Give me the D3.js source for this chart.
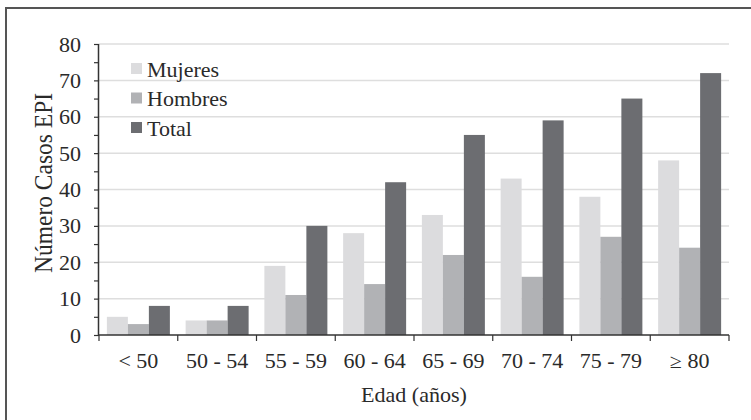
<!DOCTYPE html>
<html>
<head>
<meta charset="utf-8">
<script src="https://cdn.jsdelivr.net/npm/d3@7"></script>
<style>
  body { margin: 0; background: #fff; }
  text { font-family: "Liberation Serif", "Times New Roman", serif; fill: #2a2a2a; }
</style>
</head>
<body>
<div id="chart"></div>
<script>
// Age groups and EPI case counts
const categories = ["< 50", "50 - 54", "55 - 59", "60 - 64", "65 - 69", "70 - 74", "75 - 79", "\u2265 80"];
const series = ["Mujeres", "Hombres", "Total"];
const mujeres = [5, 4, 19, 28, 33, 43, 38, 48];
const hombres = [3, 4, 11, 14, 22, 16, 27, 24];
const total = [8, 8, 30, 42, 55, 59, 65, 72];
const yTicks = [0, 10, 20, 30, 40, 50, 60, 70, 80];

const values = { Mujeres: mujeres, Hombres: hombres, Total: total };
const colors = { Mujeres: "#dcdcde", Hombres: "#b1b2b5", Total: "#6c6d71" };

const W = 751, H = 420;
const margin = { top: 44, right: 22, bottom: 85, left: 99 };
const width = W - margin.left - margin.right;
const height = H - margin.top - margin.bottom;
const fs = 20;
const sx = 1.1; // the source picture is slightly stretched sideways

const svg = d3.select("#chart").append("svg")
    .attr("width", W)
    .attr("height", H);

// outer frame (runs off the right and bottom edges)
svg.append("path")
    .attr("d", `M${W + 5},8 H6 V${H + 5}`)
    .attr("fill", "none")
    .attr("stroke", "#555")
    .attr("stroke-width", 2);

const g = svg.append("g")
    .attr("transform", `translate(${margin.left},${margin.top})`);

const x = d3.scaleBand()
    .domain(categories)
    .range([0, width])
    .paddingInner(0.2)
    .paddingOuter(0.1);

const xSub = d3.scaleBand()
    .domain(series)
    .range([0, x.bandwidth()]);

const y = d3.scaleLinear()
    .domain([0, 80])
    .range([height, 0]);

// gridlines
g.append("g")
    .selectAll("line")
    .data(yTicks.slice(1))
    .join("line")
    .attr("x1", 0)
    .attr("x2", width)
    .attr("y1", d => y(d))
    .attr("y2", d => y(d))
    .attr("stroke", "#dedede")
    .attr("stroke-width", 1.5);

// bars
const groups = g.append("g")
    .selectAll("g")
    .data(categories)
    .join("g")
    .attr("transform", d => `translate(${x(d)},0)`);

groups.selectAll("rect")
    .data((c, i) => series.map(s => ({ s, v: values[s][i] })))
    .join("rect")
    .attr("x", d => xSub(d.s))
    .attr("y", d => y(d.v))
    .attr("width", xSub.bandwidth())
    .attr("height", d => y(0) - y(d.v))
    .attr("fill", d => colors[d.s]);

// y axis with minor ticks every 5
const yAxis = g.append("g")
    .call(d3.axisLeft(y).tickValues(d3.range(0, 81, 5)).tickSize(5).tickFormat(d => d % 10 === 0 ? d : ""))
    .call(a => a.select(".domain").attr("d", `M-0.5,${height}V0`).attr("stroke", "#333").attr("stroke-width", 1.5));
yAxis.selectAll(".tick line").attr("stroke", "#333").attr("stroke-width", 1.2);
yAxis.selectAll(".tick text")
    .attr("x", -18 / sx)
    .attr("dy", "0.35em")
    .attr("transform", `scale(${sx},1)`)
    .attr("font-size", fs)
    .attr("fill", "#2a2a2a");

// x axis: ticks on band boundaries
const xAxis = g.append("g")
    .attr("transform", `translate(0,${height})`);
xAxis.append("line")
    .attr("x1", 0).attr("x2", width)
    .attr("stroke", "#333").attr("stroke-width", 1.5);
xAxis.selectAll(".edge")
    .data(d3.range(categories.length + 1))
    .join("line")
    .attr("class", "edge")
    .attr("x1", i => i * x.step())
    .attr("x2", i => i * x.step())
    .attr("y1", 0).attr("y2", 6)
    .attr("stroke", "#333").attr("stroke-width", 1.2);
xAxis.selectAll(".lbl")
    .data(categories)
    .join("text")
    .attr("class", "lbl")
    .attr("transform", d => `translate(${x(d) + x.bandwidth() / 2},33) scale(${sx},1)`)
    .attr("text-anchor", "middle")
    .attr("font-size", fs)
    .text(d => d);

// axis titles
svg.append("text")
    .attr("transform", `translate(${margin.left + width / 2},402) scale(1.05,1)`)
    .attr("text-anchor", "middle")
    .attr("font-size", 21)
    .text("Edad (años)");

svg.append("text")
    .attr("transform", `translate(52,183) rotate(-90) scale(1,${sx})`)
    .attr("text-anchor", "middle")
    .attr("font-size", 23.5)
    .text("Número Casos EPI");

// legend
const legend = svg.append("g")
    .attr("transform", "translate(131,63)");
const item = legend.selectAll("g")
    .data(series)
    .join("g")
    .attr("transform", (d, i) => `translate(0,${i * 29.5})`);
item.append("rect")
    .attr("width", 11).attr("height", 11)
    .attr("fill", d => colors[d]);
item.append("text")
    .attr("transform", `translate(16,13.5) scale(${sx},1)`)
    .attr("font-size", fs)
    .text(d => d);
</script>
</body>
</html>
